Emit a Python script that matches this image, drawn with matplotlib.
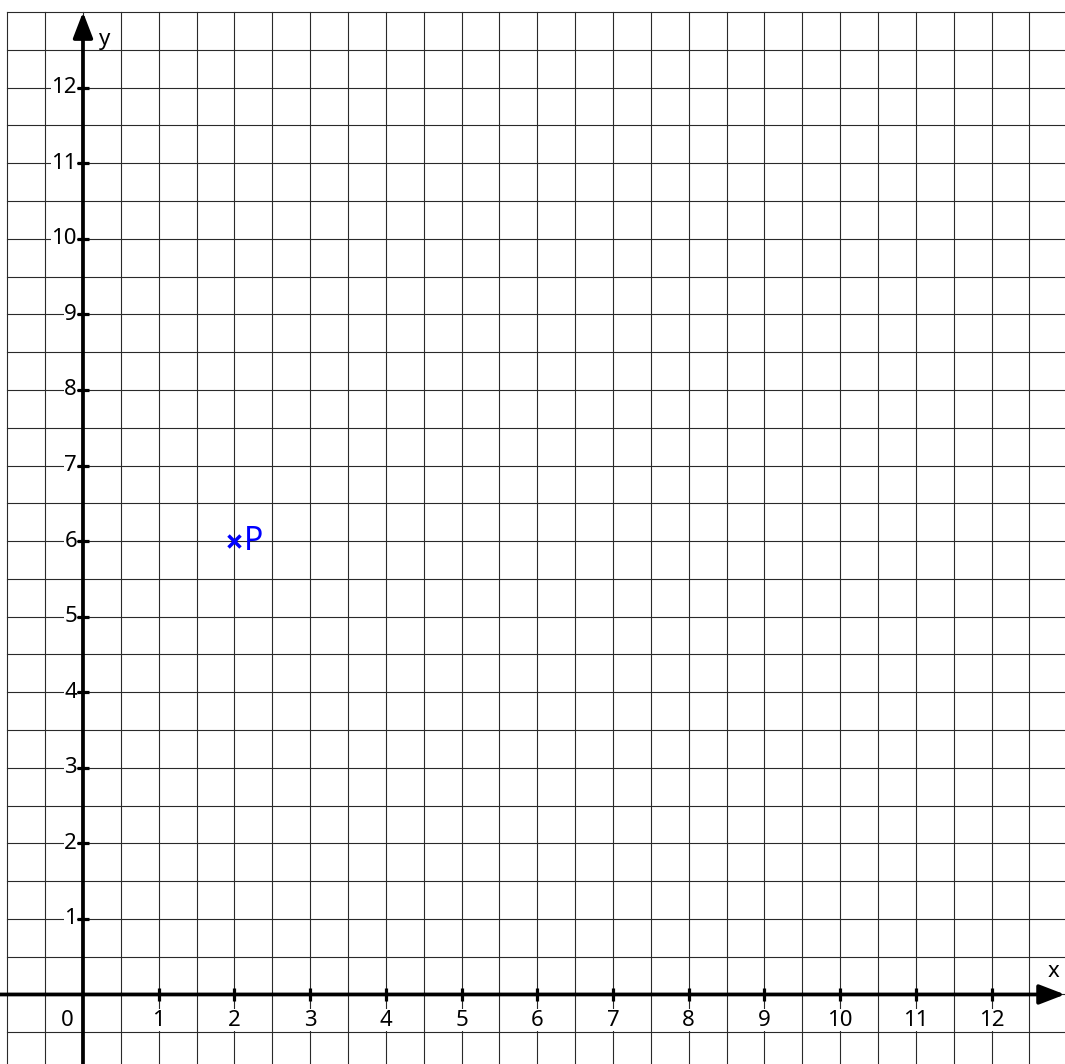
import numpy as np
import matplotlib
matplotlib.use("Agg")
import matplotlib.pyplot as plt

x_ticks = list(range(1, 13))
y_ticks = list(range(1, 13))
point_x = [2]
point_y = [6]
point_label = "P"

xmin, xmax = -1.096, 12.97
ymin, ymax = -0.92, 13.16

fig = plt.figure(figsize=(10.65, 10.64), dpi=100)
ax = fig.add_axes([0, 0, 1, 1])
ax.set_xlim(xmin, xmax)
ax.set_ylim(ymin, ymax)
ax.axis('off')

grid_col = '#2a2a2a'
for gx in np.arange(-1, 13.01, 0.5):
    ax.plot([gx, gx], [ymin, 13], color=grid_col, lw=0.8, zorder=1)
for gy in np.arange(-0.5, 13.01, 0.5):
    ax.plot([-1, xmax], [gy, gy], color=grid_col, lw=0.8, zorder=1)

# axes with arrows
astyle = '-|>,head_length=1.3,head_width=0.5'
ax.annotate('', xy=(xmax, 0), xytext=(xmin, 0),
            arrowprops=dict(arrowstyle=astyle, lw=2.7, color='black',
                            shrinkA=0, shrinkB=0, mutation_scale=12), zorder=5)
ax.annotate('', xy=(0, 13.0), xytext=(0, ymin),
            arrowprops=dict(arrowstyle=astyle, lw=2.7, color='black',
                            shrinkA=0, shrinkB=0, mutation_scale=12), zorder=5)

tk = 0.085
fs = 16
font = 'Noto Sans'
bbox = dict(facecolor='white', edgecolor='none', pad=0.3)
for t in x_ticks:
    ax.plot([t, t], [-tk, tk], color='black', lw=2.3, zorder=6, solid_capstyle='butt')
    ax.text(t, -0.34, str(t), ha='center', va='center', fontsize=fs, family=font, bbox=bbox, zorder=4)
for t in y_ticks:
    ax.plot([-tk, tk], [t, t], color='black', lw=2.3, zorder=6, solid_capstyle='butt')
    ax.text(-0.08, t, str(t), ha='right', va='center', fontsize=fs, family=font, bbox=bbox, zorder=4)

ax.text(-0.21, -0.34, '0', ha='center', va='center', fontsize=fs, family=font, bbox=bbox, zorder=4)
ax.text(0.29, 12.64, 'y', ha='center', va='center', fontsize=fs, family=font, bbox=bbox, zorder=4)
ax.text(12.82, 0.3, 'x', ha='center', va='center', fontsize=fs, family=font, bbox=bbox, zorder=4)

ax.plot(point_x, point_y, marker='x', color='#0000ff', ms=8.5, mew=2.5, ls='none', zorder=7)
ax.text(point_x[0] + 0.12, point_y[0], point_label, color='#0000ff', ha='left', va='center',
        fontsize=23, family=font, zorder=7)

fig.savefig('out.png', dpi=100)
